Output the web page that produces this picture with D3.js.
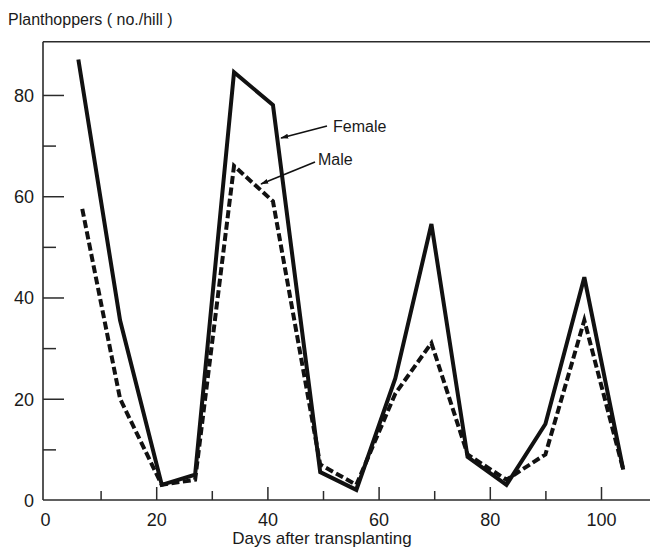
<!DOCTYPE html>
<html>
<head>
<meta charset="utf-8">
<script src="https://cdn.jsdelivr.net/npm/d3@7/dist/d3.min.js"></script>
<style>
  html, body { margin: 0; padding: 0; background: #fff; }
  svg { display: block; }
  text { font-family: "Liberation Sans", Arial, sans-serif; fill: #1a1a1a; }
</style>
</head>
<body>
<svg id="chart" width="650" height="548"></svg>
<script>
// Planthopper counts per hill, sampled through the season
const femaleDays   = [6, 13.5, 21, 27, 34, 41, 49.5, 56, 63, 69.5, 76, 83, 90, 97, 104];
const femaleCounts = [87, 35.5, 3, 5, 84.5, 78, 5.5, 2, 24, 54.5, 8.5, 3, 15, 44, 6];
const maleDays     = [6.7, 13.5, 21, 27, 34, 41, 49.5, 56, 63, 69.5, 76, 83, 90, 97, 104];
const maleCounts   = [57.5, 20, 3, 4, 66, 59, 7, 3, 21, 31, 9, 4, 9, 35.5, 6];

const xMajorTicks = [0, 20, 40, 60, 80, 100];
const xMinorTicks = [10, 30, 50, 70, 90];
const yMajorTicks = [0, 20, 40, 60, 80];
const yMinorTicks = [10, 30, 50, 70];

const yTitle = "Planthoppers ( no./hill )";
const xTitle = "Days after transplanting";

const svg = d3.select("#chart");

const x = d3.scaleLinear().domain([0, 100]).range([45, 601]);
const y = d3.scaleLinear().domain([0, 90.5]).range([500, 41.8]);

const axisLeftX = 43;
const frameRight = 650;
const ink = "#2b2b2b";

// frame: left axis, bottom axis, top rule
svg.append("line")
  .attr("x1", axisLeftX).attr("x2", axisLeftX)
  .attr("y1", y.range()[1]).attr("y2", y(0))
  .attr("stroke", ink).attr("stroke-width", 1.6);
svg.append("line")
  .attr("x1", axisLeftX).attr("x2", frameRight)
  .attr("y1", y(0)).attr("y2", y(0))
  .attr("stroke", ink).attr("stroke-width", 1.6);
svg.append("line")
  .attr("x1", axisLeftX).attr("x2", frameRight)
  .attr("y1", y.range()[1]).attr("y2", y.range()[1])
  .attr("stroke", ink).attr("stroke-width", 1.6);

// y axis ticks point inward
const yMajor = svg.append("g")
  .attr("transform", `translate(${axisLeftX},0)`)
  .call(d3.axisLeft(y).tickValues(yMajorTicks).tickSize(-21).tickPadding(30).tickFormat(d3.format("d")));
yMajor.select(".domain").remove();
yMajor.selectAll(".tick line").attr("stroke", ink).attr("stroke-width", 1.5)
  .filter(d => d === 0).remove();
yMajor.selectAll(".tick text")
  .attr("x", -9).attr("dy", "0.36em")
  .style("font-size", "18px").style("font-family", "'Liberation Sans', Arial, sans-serif").attr("fill", "#1a1a1a");

const yMinor = svg.append("g")
  .attr("transform", `translate(${axisLeftX},0)`)
  .call(d3.axisLeft(y).tickValues(yMinorTicks).tickSize(-13).tickFormat(""));
yMinor.select(".domain").remove();
yMinor.selectAll(".tick line").attr("stroke", ink).attr("stroke-width", 1.5);

// x axis ticks point upward
const xMajor = svg.append("g")
  .attr("transform", `translate(0,${y(0)})`)
  .call(d3.axisBottom(x).tickValues(xMajorTicks).tickSize(-13).tickFormat(d3.format("d")));
xMajor.select(".domain").remove();
xMajor.selectAll(".tick line").attr("stroke", ink).attr("stroke-width", 1.5)
  .filter(d => d === 0).remove();
xMajor.selectAll(".tick text")
  .attr("y", 26).attr("dy", 0)
  .style("font-size", "18px").style("font-family", "'Liberation Sans', Arial, sans-serif").attr("fill", "#1a1a1a");

const xMinor = svg.append("g")
  .attr("transform", `translate(0,${y(0)})`)
  .call(d3.axisBottom(x).tickValues(xMinorTicks).tickSize(-9).tickFormat(""));
xMinor.select(".domain").remove();
xMinor.selectAll(".tick line").attr("stroke", ink).attr("stroke-width", 1.5);

// titles
svg.append("text")
  .attr("x", 8).attr("y", 25)
  .style("font-size", "16px")
  .text(yTitle);
svg.append("text")
  .attr("x", 322).attr("y", 544)
  .attr("text-anchor", "middle")
  .style("font-size", "17px")
  .text(xTitle);

// series
const line = d3.line().x(d => x(d[0])).y(d => y(d[1]));
const female = femaleDays.map((d, i) => [d, femaleCounts[i]]);
const male = maleDays.map((d, i) => [d, maleCounts[i]]);

svg.append("path")
  .datum(male)
  .attr("d", line)
  .attr("fill", "none")
  .attr("stroke", "#111")
  .attr("stroke-width", 4)
  .attr("stroke-linejoin", "miter")
  .attr("stroke-dasharray", "8,3.5");

svg.append("path")
  .datum(female)
  .attr("d", line)
  .attr("fill", "none")
  .attr("stroke", "#111")
  .attr("stroke-width", 4)
  .attr("stroke-linejoin", "miter");

// leader labels
svg.append("defs").append("marker")
  .attr("id", "tip")
  .attr("viewBox", "0 0 10 10")
  .attr("refX", 9).attr("refY", 5)
  .attr("markerWidth", 5).attr("markerHeight", 5)
  .attr("orient", "auto")
  .append("path")
  .attr("d", "M0,2 L10,5 L0,8 Z")
  .attr("fill", "#111");

const leaders = [
  { label: "Female", from: [327, 126], to: [281, 138], tx: 333, ty: 132 },
  { label: "Male", from: [315, 162], to: [261, 184], tx: 318, ty: 165 }
];
leaders.forEach(l => {
  svg.append("line")
    .attr("x1", l.from[0]).attr("y1", l.from[1])
    .attr("x2", l.to[0]).attr("y2", l.to[1])
    .attr("stroke", "#111").attr("stroke-width", 1.6)
    .attr("marker-end", "url(#tip)");
  svg.append("text")
    .attr("x", l.tx).attr("y", l.ty)
    .style("font-size", "16px")
    .text(l.label);
});
</script>
</body>
</html>
